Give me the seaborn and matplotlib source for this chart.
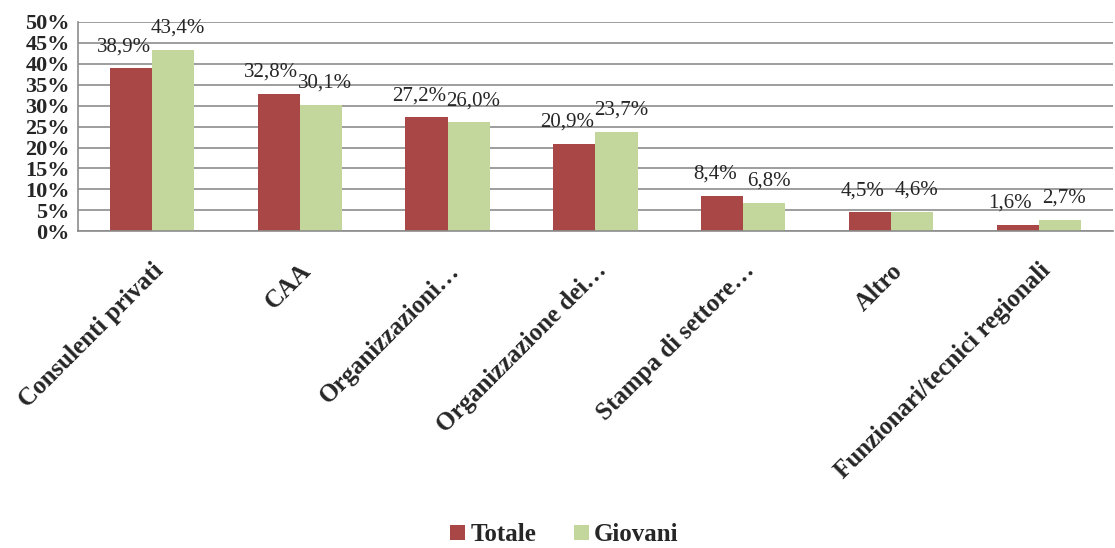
import matplotlib
matplotlib.use("Agg")
import matplotlib.pyplot as plt
import seaborn as sns
import pandas as pd

categories = ["Consulenti privati", "CAA", "Organizzazioni…", "Organizzazione dei…",
              "Stampa di settore…", "Altro", "Funzionari/tecnici regionali"]
totale = [38.9, 32.8, 27.2, 20.9, 8.4, 4.5, 1.6]
giovani = [43.4, 30.1, 26.0, 23.7, 6.8, 4.6, 2.7]
series = ["Totale", "Giovani"]
yticks = list(range(0, 55, 5))

df = pd.DataFrame({
    "cat": categories * 2,
    "val": totale + giovani,
    "serie": [series[0]] * len(categories) + [series[1]] * len(categories),
})

sns.set_style("white")
plt.rcParams["font.family"] = ["Liberation Serif", "DejaVu Serif"]

fig = plt.figure(figsize=(11.15, 5.48), dpi=100)
ax = fig.add_axes([0.07, 0.578, 0.928, 0.382])

palette = {"Totale": "#A94646", "Giovani": "#C3D69B"}
sns.barplot(data=df, x="cat", y="val", hue="serie", palette=palette,
            width=0.57, saturation=1, ax=ax, legend=True, linewidth=0)

ax.set_ylim(0, 50)
ax.set_xlim(-0.5, len(categories) - 0.5)
ax.set_yticks(yticks)
ax.set_yticklabels([f"{v}%" for v in yticks], fontsize=16, fontweight="bold")
ax.yaxis.grid(True, color="#8c8c8c", linewidth=1.2)
ax.set_axisbelow(True)
ax.set_xlabel("")
ax.set_ylabel("")

for s in ["top", "right"]:
    ax.spines[s].set_visible(False)
for s in ["left", "bottom"]:
    ax.spines[s].set_color("#8c8c8c")
    ax.spines[s].set_linewidth(1.2)

# category boundary ticks on the x axis
ax.set_xticks([i - 0.5 for i in range(len(categories) + 1)], minor=True)
ax.tick_params(axis="x", which="minor", length=8, width=2, color="#8c8c8c", direction="out")
ax.tick_params(axis="x", which="major", length=0, pad=20)
ax.tick_params(axis="y", length=0, pad=6)
ax.set_xticks(range(len(categories)))
ax.set_xticklabels(categories, rotation=45, ha="right", rotation_mode="anchor",
                   fontsize=18, fontweight="bold")

# value labels above each bar (Totale nudged left, Giovani nudged right)
for container, vals, dx in zip(ax.containers, [totale, giovani], [-0.05, 0.03]):
    for bar, v in zip(container, vals):
        ax.text(bar.get_x() + bar.get_width() / 2 + dx, v + 5.2,
                f"{v:.1f}%".replace(".", ","), ha="center", va="center", fontsize=15)

leg = ax.legend(loc="center", bbox_to_anchor=(0.47, -1.45), ncol=2, frameon=False,
                handlelength=0.6, handleheight=0.6, handletextpad=0.2, columnspacing=1.5,
                prop={"size": 18, "weight": "bold"})

fig.savefig("out.png", dpi=100)
